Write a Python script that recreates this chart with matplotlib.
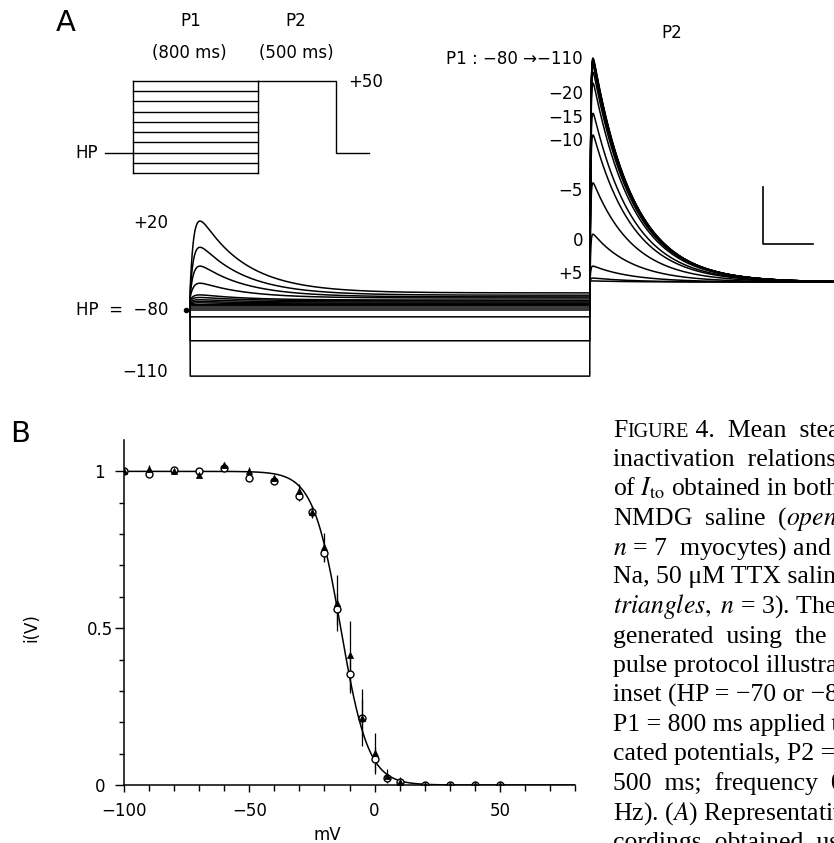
import numpy as np
import matplotlib
matplotlib.use("Agg")
from matplotlib import pyplot as plt
from matplotlib.ticker import FixedLocator

plt.rcParams["font.family"] = ["DejaVu Sans"]
plt.rcParams["mathtext.fontset"] = "stix"
plt.rcParams["axes.unicode_minus"] = True

W, H = 834, 843  # output size in pixels (dpi 100)

# ---------------- panel B : steady-state inactivation ----------------
volts = [-100, -90, -80, -70, -60, -50, -40, -30, -25, -20, -15, -10, -5, 0, 5, 10, 20, 30, 40, 50]
nmdg = [1.0, 0.993, 1.005, 1.0, 1.01, 0.98, 0.97, 0.92, 0.871, 0.74, 0.561, 0.353, 0.215, 0.082,
        0.021, 0.01, 0.0, 0.0, 0.0, 0.0]
nmdg_err = [0.005, 0.01, 0.005, 0.005, 0.01, 0.01, 0.01, 0.015, 0.015, 0.03, 0.05, 0.06, 0.06,
            0.04, 0.015, 0.01, 0.0, 0.0, 0.0, 0.0]
ttx = [1.0, 1.006, 1.0, 0.99, 1.02, 1.0, 0.98, 0.937, 0.871, 0.759, 0.58, 0.413, 0.215, 0.101,
       0.03, 0.01, 0.0, 0.0, 0.0, 0.0]
ttx_err = [0.005, 0.015, 0.005, 0.005, 0.01, 0.015, 0.01, 0.022, 0.02, 0.045, 0.09, 0.11, 0.09,
           0.065, 0.02, 0.015, 0.0, 0.0, 0.0, 0.0]
v_half, slope_k = -13.5, 5.5  # Boltzmann fit

# ---------------- panel A : current traces (nA, ms) ----------------
p1_levels = [-110, -100, -90, -80, -70, -60, -50, -40, -30, -20, -15, -10, -5, 0, 5, 10, 20]
p1_steady = [-1.16, -0.54, -0.12, 0.0, 0.035, 0.07, 0.09, 0.09, 0.105, 0.12, 0.14, 0.16, 0.175,
             0.21, 0.23, 0.26, 0.30]
p1_peak = [0, 0, 0, 0, 0, 0, 0, 0, 0.02, 0.03, 0.04, 0.06, 0.09, 0.26, 0.54, 0.84, 1.26]
p2_peak = [3.93, 3.91, 3.89, 3.89, 3.88, 3.86, 3.84, 3.79, 3.68, 3.49, 2.96, 2.58, 1.74, 0.84,
           0.28, 0.07, 0.02]
p2_base = 0.49
p1_dur, p2_dur = 800, 500
p1_tau = (8.0, 90.0)   # activation, inactivation (ms)
p2_tau = (1.5, 80.0)

p2_labels = ["\u221220", "\u221215", "\u221210", "\u22125", "0", "+5"]
p2_label_y = [94, 118, 141, 191, 241, 274]

# protocol inset (schematic step index)
inset_levels = [9, 8, 7, 6, 5, 4, 3, 2, 1, 0]
inset_hp, inset_p2 = 2, 9

caption = [
    None,
    "inactivation  relationships",
    r"of $I_{\mathrm{to}}$ obtained in both",
    r"NMDG  saline  ($\mathit{open\ circles,}$",
    r"$n$ = 7  myocytes) and 100 mM",
    "Na, 50 \u03bcM TTX saline (filled",
    r"$\mathit{triangles,}\ n$ = 3). The curves were",
    "generated  using  the  double-",
    "pulse protocol illustrated in the",
    "inset (HP = \u221270 or \u221280 mV;",
    "P1 = 800 ms applied to indi-",
    "cated potentials, P2 = +50 mV,",
    "500  ms;  frequency  0.1",
    r"Hz). ($\mathit{A}$) Representative re-",
    "cordings  obtained  using  this",
]


def box(x0, y0, x1, y1):
    return [x0 / W, 1 - y1 / H, (x1 - x0) / W, (y1 - y0) / H]


def fx(x):
    return x / W


def fy(y):
    return 1 - y / H


def kernel(t, ta, ti):
    k = (1 - np.exp(-t / ta)) * np.exp(-t / ti)
    return k / k.max()


fig = plt.figure(figsize=(W / 100, H / 100), dpi=100)
lab = dict(fontsize=12, color="black")

# ---- traces
X0, PXMS = 190, 0.5
Y0, PXNA = 310, 57.0
ax = fig.add_axes(box(180, 40, 834, 395))
ax.set_xlim((180 - X0) / PXMS, (834 - X0) / PXMS)
ax.set_ylim((Y0 - 395) / PXNA, (Y0 - 40) / PXNA)
ax.axis("off")
t1 = np.arange(0.5, p1_dur, 0.5)
t2 = np.arange(0, p2_dur + 0.5, 0.5)
k1 = kernel(t1, *p1_tau)
k2 = kernel(t2, *p2_tau)
for ss, pk, pk2 in zip(p1_steady, p1_peak, p2_peak):
    t = np.concatenate([[-8, 0], t1, p1_dur + t2])
    cur = np.concatenate([[0, 0], ss + pk * k1, p2_base + pk2 * k2])
    ax.plot(t, cur, color="black", lw=1.1)
ax.plot([-8], [0], "o", color="black", ms=3)
# scale bar 100 ms / 1 nA
sx, sy = (763 - X0) / PXMS, (Y0 - 244) / PXNA
ax.plot([sx, sx, sx + 100], [sy + 1.0, sy, sy], color="black", lw=1.2)

# ---- protocol inset
PXI = 0.156
axi = fig.add_axes(box(100, 70, 385, 180))
axi.set_xlim((100 - 133) / PXI, (385 - 133) / PXI)
LV = (173 - 81) / 9
axi.set_ylim((173 - 180) / LV, 9 + (81 - 70) / LV)
axi.axis("off")
for lv in inset_levels:
    axi.plot([0, p1_dur], [lv, lv], color="black", lw=1.0)
axi.plot([0, 0], [min(inset_levels), max(inset_levels)], color="black", lw=1.0)
axi.plot([p1_dur, p1_dur], [min(inset_levels), max(inset_levels)], color="black", lw=1.0)
axi.plot([-180, 0], [inset_hp, inset_hp], color="black", lw=1.0)
end = p1_dur + p2_dur
axi.plot([p1_dur, end, end, end + 210], [inset_p2, inset_p2, inset_hp, inset_hp],
         color="black", lw=1.0)

fig.text(fx(66), fy(23), "A", fontsize=21, ha="center", va="center")
fig.text(fx(191), fy(21), "P1", ha="center", va="center", **lab)
fig.text(fx(296), fy(21), "P2", ha="center", va="center", **lab)
fig.text(fx(189), fy(53), "(800 ms)", ha="center", va="center", **lab)
fig.text(fx(296), fy(53), "(500 ms)", ha="center", va="center", **lab)
fig.text(fx(348), fy(82), "+50", ha="left", va="center", **lab)
fig.text(fx(98), fy(153), "HP", ha="right", va="center", **lab)
fig.text(fx(168), fy(223), "+20", ha="right", va="center", **lab)
fig.text(fx(168), fy(310), "HP  =  \u221280", ha="right", va="center", **lab)
fig.text(fx(168), fy(372), "\u2212110", ha="right", va="center", **lab)
fig.text(fx(672), fy(33), "P2", ha="center", va="center", **lab)
fig.text(fx(583), fy(59), "P1 : \u221280 \u2192\u2212110", ha="right", va="center", **lab)
for s, y in zip(p2_labels, p2_label_y):
    fig.text(fx(583), fy(y), s, ha="right", va="center", **lab)

# ---- panel B
axb = fig.add_axes(box(124, 440, 575, 785))
axb.errorbar(volts, nmdg, yerr=nmdg_err, fmt="none", ecolor="black", elinewidth=0.9)
axb.errorbar(volts, ttx, yerr=ttx_err, fmt="none", ecolor="black", elinewidth=0.9)
vf = np.linspace(-100, 80, 500)
axb.plot(vf, 1 / (1 + np.exp((vf - v_half) / slope_k)), color="black", lw=1.1)
axb.plot(volts, nmdg, "o", ms=5, mfc="white", mec="black", mew=1.0)
axb.plot(volts, ttx, "^", ms=4.5, mfc="black", mec="black", mew=0.6)
axb.set_xlim(-100, 80)
axb.set_ylim(0, 1.1)
for s in ["top", "right"]:
    axb.spines[s].set_visible(False)
for s in ["left", "bottom"]:
    axb.spines[s].set_linewidth(1.1)
axb.xaxis.set_major_locator(FixedLocator([-100, -50, 0, 50]))
axb.xaxis.set_minor_locator(FixedLocator(list(range(-90, 90, 10))))
axb.yaxis.set_major_locator(FixedLocator([0, 0.5, 1.0]))
axb.yaxis.set_minor_locator(FixedLocator([0.1, 0.2, 0.3, 0.4, 0.6, 0.7, 0.8, 0.9]))
axb.set_yticklabels(["0", "0.5", "1"])
axb.tick_params(axis="x", which="major", direction="out", length=5, width=1, labelsize=12, pad=7)
axb.tick_params(axis="x", which="minor", direction="out", length=4, width=1)
axb.tick_params(axis="y", which="major", direction="out", length=6.5, width=1, labelsize=12, pad=11)
axb.tick_params(axis="y", which="minor", direction="out", length=3.6, width=1)
for tl in axb.get_yticklabels():
    tl.set_horizontalalignment("center")
axb.set_xlabel("mV", fontsize=12)
axb.xaxis.set_label_coords((327 - 124) / 451, -0.12)
axb.set_ylabel("i(V)", fontsize=12)
axb.yaxis.set_label_coords(-0.185, 0.455)
fig.text(fx(20), fy(434), "B", fontsize=21, ha="center", va="center")

# ---- caption column (cut by the page edge)
cap = dict(family=["Liberation Serif", "DejaVu Serif"], fontsize=18.5, va="baseline", ha="left")
CX, CY, LS = 613, 437, 29.4
r = fig.canvas.get_renderer()
t = fig.text(fx(CX), fy(CY), "F", **cap)
x1 = t.get_window_extent(r).x1
t = fig.text(x1 / W, fy(CY), "IGURE", **{**cap, "fontsize": 14.5})
x1 = t.get_window_extent(r).x1
fig.text(x1 / W, fy(CY), " 4.  Mean  steady-state", **cap)
for i, line in enumerate(caption):
    if line is None:
        continue
    fig.text(fx(CX), fy(CY + i * LS), line, **cap)

fig.savefig("out.png", dpi=100)
